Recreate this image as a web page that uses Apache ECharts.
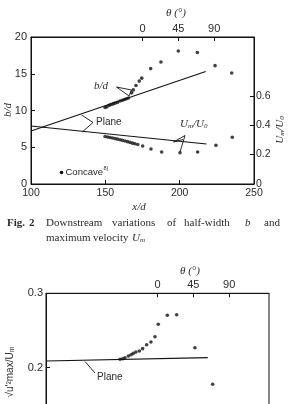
<!DOCTYPE html>
<html><head><meta charset="utf-8">
<script src="https://cdn.jsdelivr.net/npm/echarts@6/dist/echarts.min.js"></script>
<style>html,body{margin:0;padding:0;background:#fff;}#c{width:291px;height:404px;}</style>
</head><body><div id="c"></div>
<script>
// ---- Data ----
// Fig. 2: b/d (left axis) vs x/d, concave wall
const bdX = [149.8,151.1,152.5,153.8,155.2,156.5,158.2,159.9,161.5,162.9,164.2,165.6,167.7,168.8,170.6,172.8,174.5,180.5,187.4,199.1,211.9,223.8,235.0];
const bdY = [10.4,10.5,10.7,10.8,10.9,11.0,11.1,11.3,11.4,11.5,11.6,11.7,12.4,12.8,13.4,14.0,14.4,15.7,16.6,18.1,17.9,16.1,15.1];
// Um/U0 (right axis) vs x/d, concave wall
const umX = [149.8,151.5,153.1,154.8,156.5,158.2,159.9,161.5,163.2,164.9,166.6,168.3,169.9,171.8,175.1,180.7,187.9,200.2,212.1,224.4,235.4];
const umY = [0.323,0.320,0.316,0.313,0.309,0.305,0.301,0.297,0.293,0.288,0.283,0.278,0.274,0.269,0.259,0.238,0.218,0.213,0.218,0.263,0.318];
// Plane-jet reference lines
const planeBdX = [100, 217.5];
const planeBdY = [7.2, 15.3];
const planeUmX = [100, 218];
const planeUmY = [0.395, 0.272];
// Fig. 3: sqrt(u'^2)max/Um vs x/d
const tuX = [149.8,151.6,153.1,155.4,157.2,158.7,160.5,162.8,165.0,167.7,170.6,173.3,175.5,181.6,187.9,200.2,212.1];
const tuY = [0.2113,0.2121,0.2134,0.2157,0.2175,0.2193,0.2211,0.2224,0.2256,0.2309,0.2345,0.2417,0.2583,0.2704,0.2712,0.2269,0.1777];
const planeTuX = [100, 208.8];
const planeTuY = [0.209, 0.2135];
// Tick labels
const xdTicks = [100, 150, 200, 250];
const thetaTicks = [0, 45, 90];
const umTicks = [0, 0.2, 0.4, 0.6];

const pairs = (xs, ys) => xs.map((x, i) => [x, ys[i]]);
const INK = '#111';
const TXT = '#2a2a2a';
const SANS = 'Liberation Sans, Arial, sans-serif';
const SERIF = 'Liberation Serif, Times New Roman, serif';
const CAP = '11px ' + SERIF;

const chart = echarts.init(document.getElementById('c'), null, {renderer: 'canvas'});

function axisBase(extra) {
  return Object.assign({
    type: 'value',
    axisLine: {show: true, onZero: false, lineStyle: {color: INK, width: 1}},
    axisTick: {show: true, inside: true, length: 4, lineStyle: {color: INK}},
    axisLabel: {color: TXT, fontFamily: SANS, fontSize: 10.5},
    splitLine: {show: false}
  }, extra);
}

const option = {
  animation: false,
  backgroundColor: '#fff',
  grid: [
    {left: 31, top: 37, width: 223, height: 147, show: true, borderColor: INK, borderWidth: 1,
      containLabel: false, outerBoundsMode: 'none'},
    {left: 46, top: 293.3, width: 223, height: 148.8, show: true, borderColor: INK, borderWidth: 1,
      containLabel: false, outerBoundsMode: 'none'}
  ],
  xAxis: [
    axisBase({gridIndex: 0, position: 'bottom', min: 100, max: 250, interval: 50,
      axisLabel: {color: TXT, fontFamily: SANS, fontSize: 10.5, margin: 4,
        customValues: xdTicks, showMaxLabel: true}}),
    axisBase({gridIndex: 0, position: 'top', min: -140, max: 140,
      axisTick: {show: true, inside: true, length: 4, lineStyle: {color: INK}, customValues: thetaTicks},
      axisLabel: {color: TXT, fontFamily: SANS, fontSize: 11, margin: 3, customValues: thetaTicks}}),
    axisBase({gridIndex: 1, position: 'bottom', min: 100, max: 250, interval: 50,
      axisLabel: {show: false}}),
    axisBase({gridIndex: 1, position: 'top', min: -140, max: 140,
      axisTick: {show: true, inside: true, length: 4, lineStyle: {color: INK}, customValues: thetaTicks},
      axisLabel: {color: TXT, fontFamily: SANS, fontSize: 11, margin: 3, customValues: thetaTicks}})
  ],
  yAxis: [
    axisBase({gridIndex: 0, position: 'left', min: 0, max: 20, interval: 5,
      axisLabel: {color: TXT, fontFamily: SANS, fontSize: 11, margin: 4}}),
    axisBase({gridIndex: 0, position: 'right', min: 0, max: 1,
      axisTick: {show: true, inside: true, length: 4, lineStyle: {color: INK}, customValues: umTicks},
      axisLabel: {color: TXT, fontFamily: SANS, fontSize: 10.5, margin: 2, customValues: umTicks,
        formatter: v => (v === 0 ? '0' : v.toFixed(1))}}),
    axisBase({gridIndex: 1, position: 'left', min: 0.1, max: 0.3, interval: 0.1,
      axisLabel: {color: TXT, fontFamily: SANS, fontSize: 11, margin: 3, formatter: v => v.toFixed(1)}})
  ],
  series: [
    {type: 'line', xAxisIndex: 0, yAxisIndex: 0, data: pairs(planeBdX, planeBdY), symbol: 'none',
      lineStyle: {color: INK, width: 1.1}, silent: true},
    {type: 'line', xAxisIndex: 0, yAxisIndex: 1, data: pairs(planeUmX, planeUmY), symbol: 'none',
      lineStyle: {color: INK, width: 1.1}, silent: true},
    {type: 'scatter', xAxisIndex: 0, yAxisIndex: 0, data: pairs(bdX, bdY), symbol: 'circle', symbolSize: 3.6,
      itemStyle: {color: INK}},
    {type: 'scatter', xAxisIndex: 0, yAxisIndex: 1, data: pairs(umX, umY), symbol: 'circle', symbolSize: 3.6,
      itemStyle: {color: INK}},
    {type: 'line', xAxisIndex: 2, yAxisIndex: 2, data: pairs(planeTuX, planeTuY), symbol: 'none',
      lineStyle: {color: INK, width: 1.1}, silent: true},
    {type: 'scatter', xAxisIndex: 2, yAxisIndex: 2, data: pairs(tuX, tuY), symbol: 'circle', symbolSize: 3.6,
      itemStyle: {color: INK}}
  ],
  graphic: [
    // Top chart titles
    {type: 'text', left: 166, top: 8, style: {text: 'θ (°)', font: 'italic 11px ' + SERIF, fill: TXT}},
    {type: 'text', x: 8, y: 110, rotation: Math.PI / 2, style: {text: 'b/d', font: 'italic 11px ' + SERIF, fill: TXT, align: 'center', verticalAlign: 'middle'}},
    {type: 'text', x: 280, y: 130, rotation: Math.PI / 2, style: {
      text: '{i|U}{s|m}{i|/U}{s|0}', fill: TXT, align: 'center', verticalAlign: 'middle',
      rich: {i: {font: 'italic 11px ' + SERIF, fill: TXT}, s: {font: 'italic 7px ' + SERIF, fill: TXT, padding: [5, 0, 0, 0]}}}},
    {type: 'text', x: 139, y: 207, style: {text: 'x/d', font: 'italic 11px ' + SERIF, fill: TXT, align: 'center', verticalAlign: 'middle'}},
    // b/d annotation
    {type: 'text', x: 94, y: 86, style: {text: 'b/d', font: 'italic 11px ' + SERIF, fill: TXT, verticalAlign: 'middle'}},
    {type: 'polyline', shape: {points: [[116.5, 87], [131.5, 90], [129, 96], [116.5, 87]]}, style: {stroke: INK, lineWidth: 0.9, fill: null}},
    // Plane bracket (top)
    {type: 'polyline', shape: {points: [[81.7, 115], [93, 122.5], [82.3, 132]]}, style: {stroke: INK, lineWidth: 0.9, fill: null}},
    {type: 'text', x: 96, y: 122.5, style: {text: 'Plane', font: '10px ' + SANS, fill: TXT, verticalAlign: 'middle'}},
    // Um/U0 annotation
    {type: 'text', x: 180, y: 124, style: {
      text: '{i|U}{s|m}{i|/U}{s|0}', fill: TXT, verticalAlign: 'middle',
      rich: {i: {font: 'italic 11px ' + SERIF, fill: TXT}, s: {font: 'italic 7px ' + SERIF, fill: TXT, padding: [5, 0, 0, 0]}}}},
    {type: 'polyline', shape: {points: [[173.5, 142], [185, 135.5], [180, 152]]}, style: {stroke: INK, lineWidth: 0.9, fill: null}},
    {type: 'line', shape: {x1: 173.5, y1: 142, x2: 183, y2: 139.5}, style: {stroke: INK, lineWidth: 0.9}},
    // Concave legend
    {type: 'circle', shape: {cx: 61.5, cy: 172.5, r: 1.8}, style: {fill: INK}},
    {type: 'text', x: 65.5, y: 172.5, style: {text: 'Concave', font: '9.5px ' + SANS, fill: TXT, verticalAlign: 'middle'}},
    {type: 'text', x: 103.5, y: 168.5, style: {text: '8)', font: '5.5px ' + SANS, fill: TXT, verticalAlign: 'middle'}},
    // Caption line 1
    {type: 'text', x: 7, y: 223, style: {text: 'Fig.', font: 'bold ' + CAP, fill: TXT, verticalAlign: 'middle'}},
    {type: 'text', x: 29, y: 223, style: {text: '2', font: 'bold ' + CAP, fill: TXT, verticalAlign: 'middle'}},
    {type: 'text', x: 46, y: 223, style: {text: 'Downstream', font: CAP, fill: TXT, verticalAlign: 'middle'}},
    {type: 'text', x: 112, y: 223, style: {text: 'variations', font: CAP, fill: TXT, verticalAlign: 'middle'}},
    {type: 'text', x: 167, y: 223, style: {text: 'of', font: CAP, fill: TXT, verticalAlign: 'middle'}},
    {type: 'text', x: 184, y: 223, style: {text: 'half-width', font: CAP, fill: TXT, verticalAlign: 'middle'}},
    {type: 'text', x: 245, y: 223, style: {text: 'b', font: 'italic ' + CAP, fill: TXT, verticalAlign: 'middle'}},
    {type: 'text', x: 264, y: 223, style: {text: 'and', font: CAP, fill: TXT, verticalAlign: 'middle'}},
    // Caption line 2
    {type: 'text', x: 46, y: 238, style: {text: 'maximum', font: CAP, fill: TXT, verticalAlign: 'middle'}},
    {type: 'text', x: 93, y: 238, style: {text: 'velocity', font: CAP, fill: TXT, verticalAlign: 'middle'}},
    {type: 'text', x: 132, y: 238, style: {
      text: '{i|U}{s|m}', fill: TXT, verticalAlign: 'middle',
      rich: {i: {font: 'italic ' + CAP, fill: TXT}, s: {font: 'italic 7px ' + SERIF, fill: TXT, padding: [5, 0, 0, 0]}}}},
    // Bottom chart
    {type: 'text', left: 180, top: 266, style: {text: 'θ (°)', font: 'italic 11px ' + SERIF, fill: TXT}},
    {type: 'text', x: 10, y: 372, rotation: Math.PI / 2, style: {
      text: "{a|√u'²max/U}{s|m}", fill: TXT, align: 'center', verticalAlign: 'middle',
      rich: {a: {font: '10px ' + SANS, fill: TXT}, s: {font: '7px ' + SANS, fill: TXT, padding: [5, 0, 0, 0]}}}},
    {type: 'line', shape: {x1: 85, y1: 361.5, x2: 95, y2: 373}, style: {stroke: INK, lineWidth: 0.9}},
    {type: 'text', x: 97, y: 377, style: {text: 'Plane', font: '10px ' + SANS, fill: TXT, verticalAlign: 'middle'}}
  ]
};
chart.setOption(option);
</script>
</body></html>
